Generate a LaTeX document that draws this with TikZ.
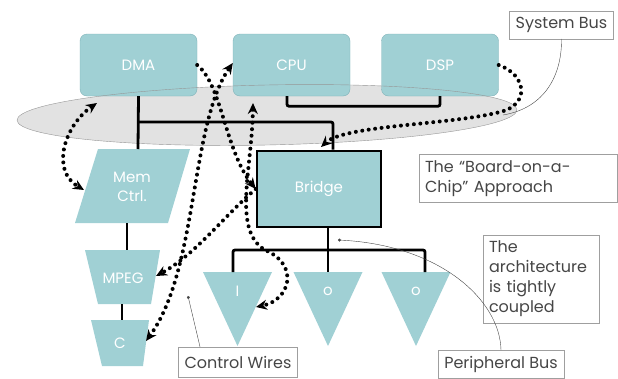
\documentclass[tikz,border=0pt]{standalone}
\usepackage{fontspec}
\setmainfont{Poppins}
\usetikzlibrary{arrows.meta,calc}
\definecolor{chipteal}{RGB}{160,208,212}
\definecolor{chipline}{RGB}{128,178,184}
\definecolor{busfill}{RGB}{226,226,226}
\definecolor{busline}{RGB}{150,150,150}
\definecolor{notetext}{RGB}{70,70,70}
\newcommand{\chipfont}{\fontsize{15}{19}\selectfont}
\tikzset{
    unit/.style={rectangle, draw=chipline, fill=chipteal, rounded corners=7pt,
                 minimum width=117pt, minimum height=62pt, text=white,
                 font=\chipfont},
    bridgeblk/.style={rectangle, draw=black, fill=chipteal, line width=2.6pt,
                 minimum width=124pt, minimum height=76pt, text=white,
                 font=\chipfont},
    lbl/.style={text=white, font=\chipfont, align=center, inner sep=0pt},
    busln/.style={line width=2.8pt, black, rounded corners=2pt},
    wtip/.tip={Stealth[length=11pt,width=10pt]},
    ctrlw/.style={line width=4pt, black, line cap=round,
                  dash pattern=on 0pt off 6.5pt},
    note/.style={rectangle, draw=gray!75, fill=white, text=notetext,
                 align=left, font=\fontsize{16}{20}\selectfont, inner sep=6pt},
    ptr/.style={thin, gray!55!black},
}

\begin{document}
\begin{tikzpicture}[x=1pt, y=-1pt]
    \useasboundingbox (0,0) rectangle (618,378);

    % system bus and the units on it
    \fill[busfill, rotate around={1.2:(267,115)}] (267,115) ellipse [x radius=250, y radius=30];
    \node[unit] (dma) at (138.5,65) {DMA};
    \node[unit] (cpu) at (291.5,65) {CPU};
    \node[unit] (dsp) at (440,65) {DSP};
    \draw[busline, rotate around={1.2:(267,115)}] (267,115) ellipse [x radius=250, y radius=30];

    \node[bridgeblk] (bridge) at (319,189) {Bridge};

    % memory side
    \fill[chipteal] (98,149) -- (190,149) -- (168,223) -- (75,223) -- cycle;
    \node[lbl] (memc) at (132,187) {Mem\\Ctrl.};
    \fill[chipteal] (85,250) -- (160,250) -- (151,304) -- (98,304) -- cycle;
    \node[lbl] (mpeg) at (123,278) {MPEG};
    \fill[chipteal] (91,320) -- (149,320) -- (143,366) -- (102,366) -- cycle;
    \node[lbl] (cdec) at (120,343) {C};

    % peripherals
    \foreach \nm/\cx/\tx in {pin/237.5/I, pouta/328/o, poutb/416/o} {
        \fill[chipteal] (\cx-34.5,272) -- (\cx+34.5,272) -- (\cx,346) -- cycle;
        \node[lbl] (\nm) at (\cx,291) {\tx};
    }

    \coordinate (sysjoin) at (138,122);
    \coordinate (memtop) at (138,149);
    \coordinate (membot) at (127,223);
    \coordinate (mpegtop) at (127,250);
    \coordinate (mpegbot) at (122,304);
    \coordinate (ctop) at (122,320);
    \coordinate (pintop) at (233,272);
    \coordinate (poutatop) at (328,272);
    \coordinate (poutbtop) at (425,272);
    \coordinate (sysL) at (97,103);
    \coordinate (sysC) at (253,103);
    \coordinate (sysR) at (321,147);
    \coordinate (memL) at (84,190);
    \coordinate (mpegR) at (156,276);
    \coordinate (cR) at (146,341);
    \coordinate (pinR) at (256,307);

    % solid buses
    \draw[busln] (dma.south) -- (memtop);
    \draw[busln] (sysjoin) -| ([xshift=14pt]bridge.north);
    \draw[busln] ([xshift=-4.5pt]cpu.south) -- ++(0,10) -| (dsp.south);
    \draw[busln] (membot) -- (mpegtop);
    \draw[busln] (mpegbot) -- (ctop);
    \draw[busln] ([xshift=9pt]bridge.south) -- (poutatop);
    \draw[busln] (pintop) |- (425,250) -- (poutbtop);

    % control wires
    \draw[ctrlw, wtip-wtip] (sysL) .. controls (65,125) and (50,170) .. (memL);
    \draw[ctrlw, -wtip] (dma.east) .. controls (222,85) and (225,150) .. (bridge.west);
    \draw[ctrlw, -wtip] (bridge.west) .. controls (225,215) and (195,255) .. (mpegR);
    \draw[ctrlw, wtip-wtip] (cR) .. controls (198,270) and (190,125) .. ([yshift=2pt]cpu.west);
    \draw[ctrlw, wtip-wtip] (sysC) .. controls (252,170) and (232,230) .. (265,250)
        .. controls (300,265) and (290,300) .. (pinR);
    \draw[ctrlw, -wtip] (dsp.east) .. controls (527,75) and (530,105) .. (500,112)
        .. controls (450,125) and (345,125) .. (sysR);

    % notes
    \node[note, minimum width=103pt, minimum height=26pt] (sysbus) at (561.5,25) {System Bus};
    \node[note, text width=186pt, minimum height=47pt] (boc) at (518,178.5)
        {The “Board-on-a-\\Chip” Approach};
    \node[note, text width=104pt, minimum height=88pt] (arch) at (541,279)
        {The\\architecture\\is tightly\\coupled};
    \node[note, minimum width=124pt, minimum height=25pt] (peri) at (501,364.5) {Peripheral Bus};
    \node[note, minimum width=118pt, minimum height=30pt] (ctrl) at (238,362) {Control Wires};

    \coordinate (sysbusend) at (503,115);
    \coordinate (periend) at (338,240);
    \coordinate (ctrlend) at (188,296);
    \draw[ptr] (sysbus.south) .. controls (562,75) and (545,108) .. (sysbusend);
    \draw[ptr, -{Circle[length=3pt]}] (peri.north) .. controls (500,300) and (440,245) .. (periend);
    \draw[ptr, -{Circle[length=3pt]}] ([xshift=-38pt]ctrl.north) -- (ctrlend);
\end{tikzpicture}
\end{document}
